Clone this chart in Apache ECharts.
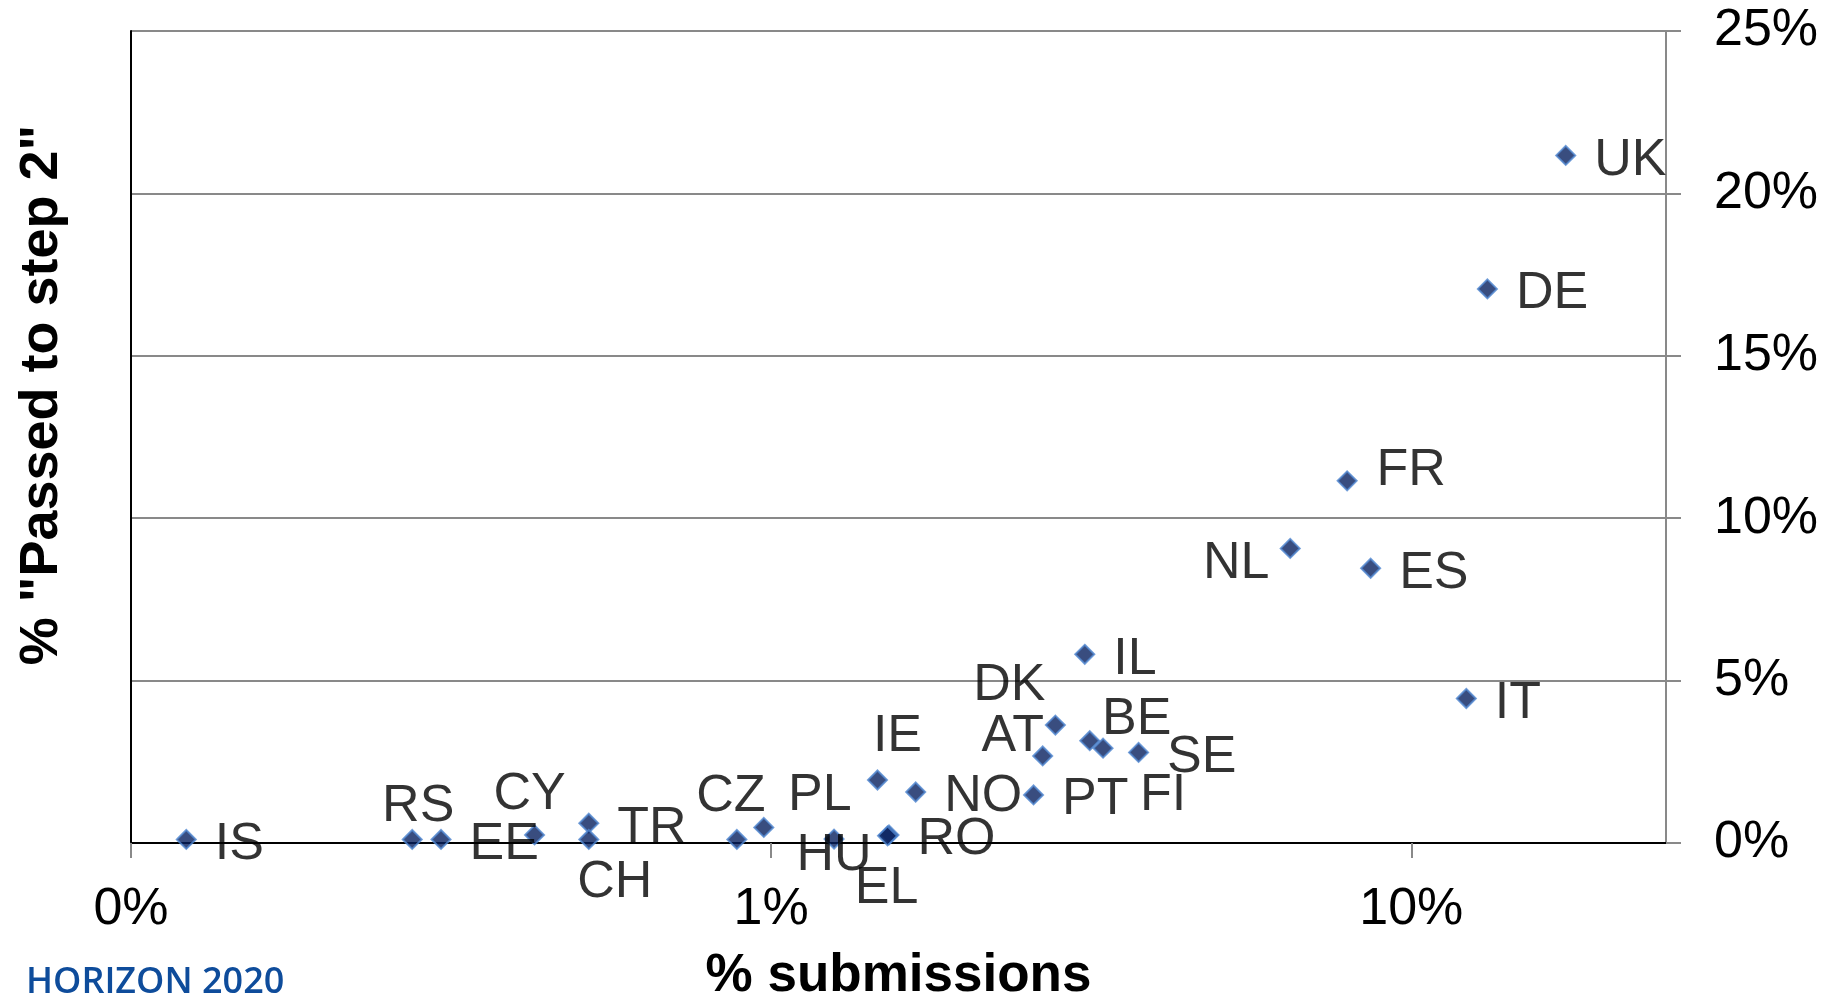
<!DOCTYPE html>
<html>
<head>
<meta charset="utf-8">
<script src="https://cdn.jsdelivr.net/npm/echarts@6/dist/echarts.min.js"></script>
<style>
html,body{margin:0;padding:0;background:#fff;}
#chart{width:1833px;height:998px;}
</style>
</head>
<body>
<div id="chart"></div>
<script>
// ---- data (fractions) ----
const countries = ['IS','RS','EE','CY','TR','CH','CZ','PL','HU','RO','EL','IE','NO','PT','AT','DK','BE','FI','SE','IL','NL','FR','ES','IT','DE','UK'];
const submissionsShare = [0.00122,0.00275,0.00305,0.00427,0.00519,0.00519,0.00884,0.00974,0.01254,0.01528,0.0152,0.01466,0.01682,0.0257,0.02656,0.0278,0.03146,0.0330,0.0375,0.0309,0.0647,0.0794,0.0864,0.1219,0.1315,0.1743];
const passedShare = [0.0011,0.0011,0.0011,0.0025,0.0061,0.0011,0.0011,0.0048,0.0012,0.0025,0.0022,0.0194,0.0157,0.0148,0.0268,0.0363,0.0315,0.0292,0.0279,0.0581,0.0907,0.1115,0.0846,0.0445,0.1706,0.2117];
const xTickValues = [0.001, 0.01, 0.1];
const yTickValues = [0, 0.05, 0.10, 0.15, 0.20, 0.25];

// ---- label placement (style only) ----
const labelShift = {RS:[6,-38],CY:[-5,-45],CH:[26,38],CZ:[-6,-48],PL:[56,-37],HU:[0,12],EL:[-1,48],IE:[20,-48],DK:[-46,-44],AT:[-30,-24],BE:[47,-26],FI:[60,42],NL:[-54,10],FR:[64,-15]};
const TEXT_DROP = 5;

const FONT = '"Liberation Sans", Arial, sans-serif';
const GRAY = '#898989';
const pct = v => Math.round(v * 100) + '%';

const points = countries.map((c, i) => {
  const item = {name: c, value: [submissionsShare[i], passedShare[i]]};
  if (labelShift[c]) {
    item.label = {position: 'inside', align: 'center', verticalAlign: 'middle', offset: [labelShift[c][0], labelShift[c][1] + TEXT_DROP]};
  }
  return item;
});

const chart = echarts.init(document.getElementById('chart'), null, {renderer: 'canvas'});
chart.setOption({
  animation: false,
  backgroundColor: '#fff',
  grid: {left: 131, right: 167, top: 31, bottom: 155, containLabel: false, outerBoundsMode: 'none'},
  xAxis: [{
    type: 'log', logBase: 10, min: 0.001, max: 0.25,
    position: 'bottom',
    name: '% submissions', nameLocation: 'middle', nameGap: 107,
    nameTextStyle: {fontFamily: FONT, fontSize: 53, fontWeight: 'bold', color: '#000'},
    axisLine: {show: true, lineStyle: {color: GRAY, width: 2}},
    axisTick: {show: true, inside: false, length: 15, lineStyle: {color: GRAY, width: 2}},
    minorTick: {show: false},
    splitLine: {show: false},
    axisLabel: {fontFamily: FONT, fontSize: 52, color: '#000', margin: 41, formatter: pct, showMaxLabel: false}
  }, {
    type: 'log', logBase: 10, min: 0.001, max: 0.25,
    position: 'top',
    axisLine: {show: true, lineStyle: {color: '#000', width: 2}},
    axisTick: {show: false}, axisLabel: {show: false}, splitLine: {show: false}
  }],
  yAxis: [{
    type: 'value', min: 0, max: 0.25, interval: 0.05,
    position: 'right',
    axisLine: {show: true, lineStyle: {color: GRAY, width: 2}},
    axisTick: {show: true, inside: false, length: 15, lineStyle: {color: GRAY, width: 2}},
    splitLine: {show: true, lineStyle: {color: GRAY, width: 2}},
    axisLabel: {fontFamily: FONT, fontSize: 52, color: '#000', margin: 48, align: 'left', formatter: pct, padding: [TEXT_DROP * 2, 0, 0, 0]}
  }, {
    type: 'value', min: 0, max: 0.25, interval: 0.05,
    position: 'left',
    axisLine: {show: true, lineStyle: {color: '#000', width: 2}},
    axisTick: {show: false}, axisLabel: {show: false}, splitLine: {show: false}
  }],
  graphic: [{
    type: 'text', x: 42, y: 395, rotation: Math.PI / 2,
    style: {text: '% "Passed to step 2"', fontFamily: FONT, fontSize: 54, fontWeight: 'bold', fill: '#000', textAlign: 'center', textVerticalAlign: 'middle'}
  }, {
    type: 'text', x: 26, y: 983,
    style: {text: 'HORIZON 2020', fontFamily: '"Open Sans", sans-serif', fontSize: 36, fontWeight: 600, fill: '#0e4c9b', textAlign: 'left', textVerticalAlign: 'middle'}
  }],
  series: [{
    type: 'scatter',
    xAxisIndex: 0, yAxisIndex: 0,
    symbol: 'diamond', symbolSize: 19,
    itemStyle: {color: '#07215f', borderColor: '#4f86cf', borderWidth: 2},
    label: {show: true, position: 'right', distance: 18, offset: [0, TEXT_DROP], formatter: '{b}', fontFamily: FONT, fontSize: 52, color: '#000'},
    data: points,
    z: 5
  }]
});
</script>
</body>
</html>
